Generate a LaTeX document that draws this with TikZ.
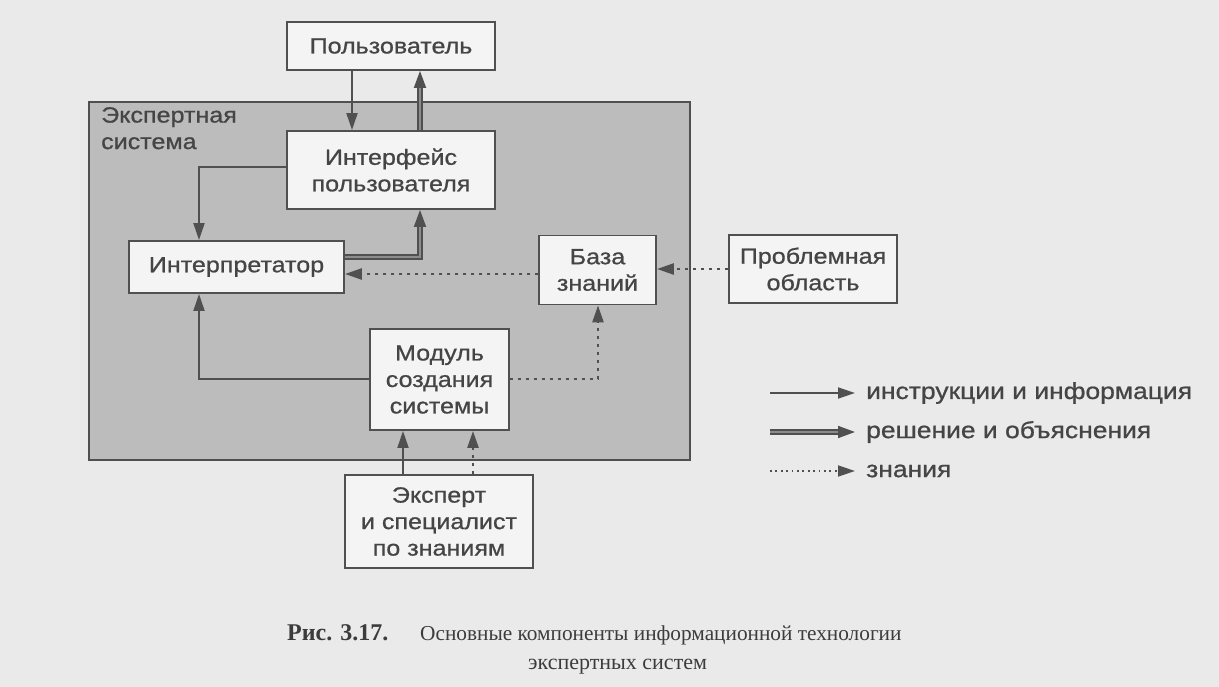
\documentclass[tikz,border=0pt]{standalone}
\usepackage{fontspec}
\setmainfont{Liberation Serif}
\newfontfamily\diafont[FakeStretch=1.14,FakeBold=0.8]{Liberation Sans}
\usetikzlibrary{arrows.meta}
\definecolor{pagebg}{HTML}{EAEAEA}
\definecolor{greyreg}{HTML}{BCBCBC}
\definecolor{boxfill}{HTML}{F4F4F4}
\definecolor{ink}{HTML}{505050}
\definecolor{txt}{HTML}{454545}
\definecolor{captxt}{HTML}{3C3C3C}
\definecolor{midgrey}{HTML}{8C8C8C}
\begin{document}
\begin{tikzpicture}[x=1pt,y=-1pt,
  dfont/.style={font=\diafont\fontsize{22}{26.5}\selectfont, text=txt},
  box/.style={draw=ink, fill=boxfill, line width=1.9pt, inner sep=0pt, align=center, dfont},
  info/.style={draw=ink, line width=1.9pt, -{Triangle[length=17pt,width=11pt]}},
  sol/.style={draw=ink, line width=1.8pt, double=midgrey, double distance=1.6pt, -{Triangle[length=17pt,width=12pt]}},
  know/.style={draw=ink, line width=2.6pt, dash pattern=on 2.6pt off 5.4pt, -{Triangle[length=17pt,width=11pt]}},
  legtext/.style={anchor=west, inner sep=0pt, font=\diafont\fontsize{23.2}{26}\selectfont, text=txt}]
\fill[pagebg] (0,0) rectangle (1219,687);
\useasboundingbox (0,0) rectangle (1219,687);

% expert system region
\node[draw=ink, fill=greyreg, line width=1.9pt, minimum width=601pt, minimum height=358pt, inner sep=0pt] (es) at (389.5,281) {};
\node[anchor=north west, align=left, inner sep=0pt, dfont] (eslabel) at (101,107) {Экспертная\\система};

% boxes
\node[box, minimum width=208pt, minimum height=48pt] (user) at (391,46) {Пользователь};
\node[box, minimum width=208pt, minimum height=78pt] (iface) at (391,170) {Интерфейс\\пользователя};
\node[box, minimum width=215pt, minimum height=52pt] (interp) at (236.5,267) {Интерпретатор};
\node[box, minimum width=117pt, minimum height=69pt] (kb) at (597.5,270) {База\\знаний};
\node[box, minimum width=168pt, minimum height=68pt] (prob) at (813,269) {Проблемная\\область};
\node[box, minimum width=139pt, minimum height=101pt] (module) at (439.5,379.5) {Модуль\\создания\\системы};
\node[box, minimum width=188pt, minimum height=93pt] (expert) at (439,521.5) {Эксперт\\и специалист\\по знаниям};

% helper coordinates
\coordinate (cA) at (352,0);
\coordinate (cB) at (420,0);
\coordinate (cL) at (199,0);
\coordinate (cK) at (598,0);
\coordinate (cE1) at (403,0);
\coordinate (cE2) at (473,0);
\coordinate (rowI) at (0,167);
\coordinate (rowS) at (0,257);
\coordinate (rowK) at (0,274);
\coordinate (rowM) at (0,379);

% connectors
\draw[info] (user.south -| cA) -- (iface.north -| cA);
\draw[sol] (iface.north -| cB) -- (user.south -| cB);
\draw[info] (iface.west |- rowI) -| (interp.north -| cL);
\draw[sol] (interp.east |- rowS) -| (iface.south -| cB);
\draw[know] (kb.west |- rowK) -- (interp.east |- rowK);
\draw[know] (prob.west) -- (kb.east |- prob.west);
\draw[info] (module.west |- rowM) -| (interp.south -| cL);
\draw[know] (module.east |- rowM) -| (kb.south -| cK);
\draw[info] (expert.north -| cE1) -- (module.south -| cE1);
\draw[know] (expert.north -| cE2) -- (module.south -| cE2);

% legend
\coordinate (l1a) at (770,393); \coordinate (l1b) at (855,393);
\coordinate (l2a) at (770,432); \coordinate (l2b) at (855,432);
\coordinate (l3a) at (770,471); \coordinate (l3b) at (855,471);
\draw[info] (l1a) -- (l1b);
\draw[sol] (l2a) -- (l2b);
\draw[know, line width=1.8pt, dash pattern=on 1.8pt off 3.6pt] (l3a) -- (l3b);
\node[legtext] (t1) at (866,393) {инструкции и информация};
\node[legtext] (t2) at (866,432) {решение и объяснения};
\node[legtext] (t3) at (866,471) {знания};

% caption
\node[anchor=base west, inner sep=0pt, font=\fontsize{24}{26}\selectfont\bfseries, text=captxt] (cap1) at (287,640) {Рис. 3.17.};
\node[anchor=base west, inner sep=0pt, font=\fontsize{21.3}{26}\selectfont, text=captxt] (cap2) at (420,640) {Основные компоненты информационной технологии};
\node[anchor=base west, inner sep=0pt, font=\fontsize{22}{26}\selectfont, text=captxt] (cap3) at (528,669) {экспертных систем};
\end{tikzpicture}
\end{document}
